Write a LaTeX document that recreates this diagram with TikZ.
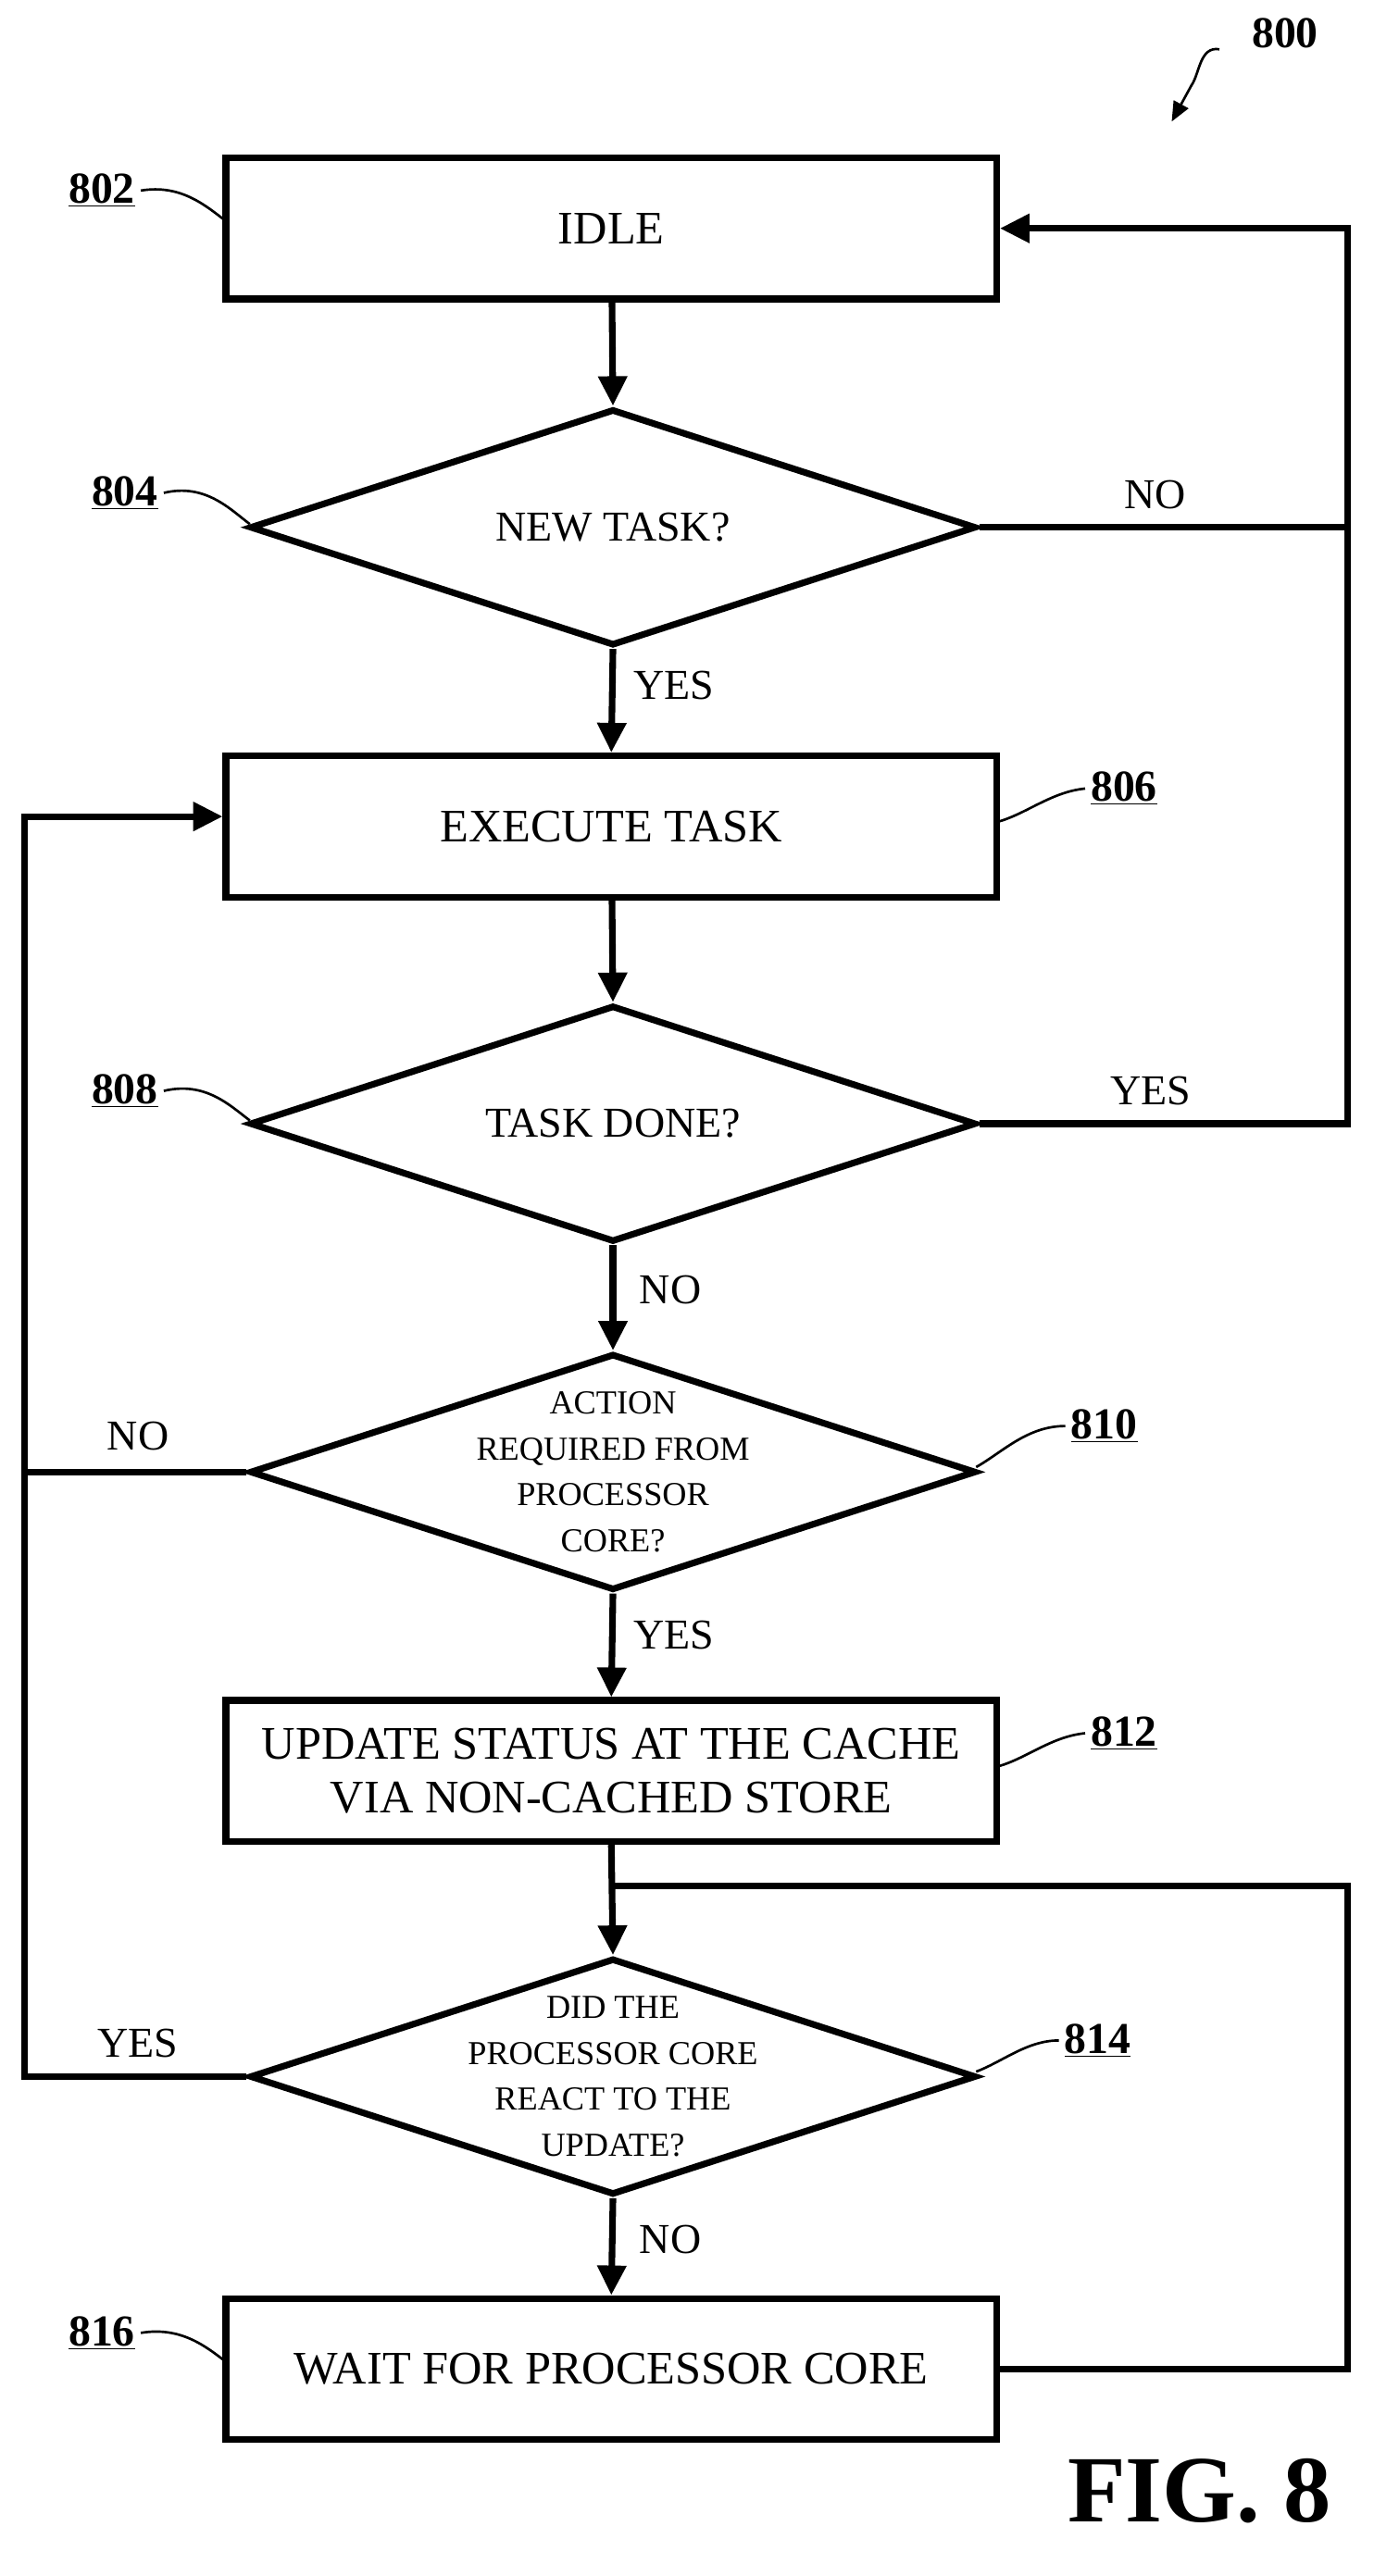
\documentclass[tikz,border=0pt]{standalone}
\usepackage{fontspec}
\setmainfont{Liberation Serif}
\usetikzlibrary{arrows.meta,shapes.geometric}
\begin{document}
\begin{tikzpicture}[x=1bp,y=-1bp,
  box/.style={draw,line width=4bp,minimum width=469bp,minimum height=86bp,font=\fontsize{28.5}{33}\selectfont,align=center},
  dia/.style={draw,line width=4bp,diamond,aspect=3.07,minimum width=442bp,minimum height=144bp,inner sep=0pt},
  dtext/.style={font=\fontsize{26}{30}\selectfont,align=center},
  mtext/.style={font=\fontsize{20.5}{28}\selectfont,align=center},
  flow/.style={line width=4bp,-{Triangle[length=18bp,width=17bp]}},
  ln/.style={line width=4bp},
  lab/.style={font=\fontsize{26}{28}\selectfont},
  ref/.style={font=\bfseries\fontsize{27}{28}\selectfont},
  lead/.style={line width=1.5bp}]
\useasboundingbox (0,0) rectangle (836,1568);
\node[box] (b802) at (372,139) {IDLE};
\node[dia] (d804) at (373,321) {};
\node[dtext] (x804) at (373,321) {NEW TASK?};
\node[box] (b806) at (372,503) {EXECUTE TASK};
\node[dia] (d808) at (373,684) {};
\node[dtext] (x808) at (373,684) {TASK DONE?};
\node[dia] (d810) at (373,896) {};
\node[mtext] (x810) at (373,896) {ACTION\\REQUIRED FROM\\PROCESSOR\\CORE?};
\node[box] (b812) at (372,1078) {UPDATE STATUS AT THE CACHE\\VIA NON-CACHED STORE};
\node[dia] (d814) at (373,1264) {};
\node[mtext] (x814) at (373,1264) {DID THE\\PROCESSOR CORE\\REACT TO THE\\UPDATE?};
\node[box] (b816) at (372,1442) {WAIT FOR PROCESSOR CORE};
\coordinate (r1) at (820,321);
\coordinate (r2) at (820,684);
\coordinate (r0) at (820,139);
\coordinate (l1) at (15,896);
\coordinate (l2) at (15,1264);
\coordinate (l0) at (15,497);
\coordinate (j) at (372,1148);
\coordinate (r3) at (820,1442);
\coordinate (r4) at (820,1148);
\draw[flow] (b802) -- (d804.north);
\draw[flow] (d804.south) -- (b806.north);
\draw[flow] (b806) -- (d808.north);
\draw[flow] (d808.south) -- (d810.north);
\draw[flow] (d810.south) -- (b812.north);
\draw[flow] (b812.south) -- (d814.north);
\draw[flow] (d814.south) -- (b816.north);
\draw[ln] (d804.east) -- (r1);
\draw[flow] (d808.east) -- (r2) -- (r0) -- (b802.east);
\draw[ln] (d810.west) -- (l1);
\draw[flow] (d814.west) -- (l2) -- (l0) -- (b806.west |- l0);
\draw[ln] (b816.east) -- (r3) -- (r4) -- (j);
\node[lab] (t1) at (703,301) {NO};
\node[lab] (t2) at (410,417) {YES};
\node[lab] (t3) at (700,664) {YES};
\node[lab] (t4) at (408,785) {NO};
\node[lab] (t5) at (84,874) {NO};
\node[lab] (t6) at (410,995) {YES};
\node[lab] (t7) at (84,1244) {YES};
\node[lab] (t8) at (408,1363) {NO};
\node[ref] (n800) at (782,20) {800};
\node[ref] (n802) at (62,116) {\underline{802}};
\node[ref] (n804) at (76,300) {\underline{804}};
\node[ref] (n806) at (684,480) {\underline{806}};
\node[ref] (n808) at (76,664) {\underline{808}};
\node[ref] (n810) at (672,868) {\underline{810}};
\node[ref] (n812) at (684,1055) {\underline{812}};
\node[ref] (n814) at (668,1242) {\underline{814}};
\node[ref] (n816) at (62,1420) {\underline{816}};
\draw[lead] (n802.east) .. controls (110,112) and (125,125) .. (138,135);
\draw[lead] (n804.east) .. controls (125,294) and (140,310) .. (152,319);
\draw[lead] (n806.west) .. controls (640,482) and (625,495) .. (608,500);
\draw[lead] (n808.east) .. controls (125,658) and (140,673) .. (152,682);
\draw[lead] (n810.west) .. controls (625,868) and (610,884) .. (594,893);
\draw[lead] (n812.west) .. controls (640,1057) and (625,1070) .. (608,1075);
\draw[lead] (n814.west) .. controls (625,1242) and (610,1255) .. (594,1261);
\draw[lead] (n816.east) .. controls (110,1416) and (125,1428) .. (138,1438);
\coordinate (a0) at (742,30);
\coordinate (a1) at (713,74);
\draw[lead,-{Triangle[length=12bp,width=10bp]}] (a0) .. controls (730,28) and (730,45) .. (725,52) -- (a1);
\node[font=\bfseries\fontsize{58}{60}\selectfont] (fig) at (730,1516) {FIG. 8};
\end{tikzpicture}
\end{document}
